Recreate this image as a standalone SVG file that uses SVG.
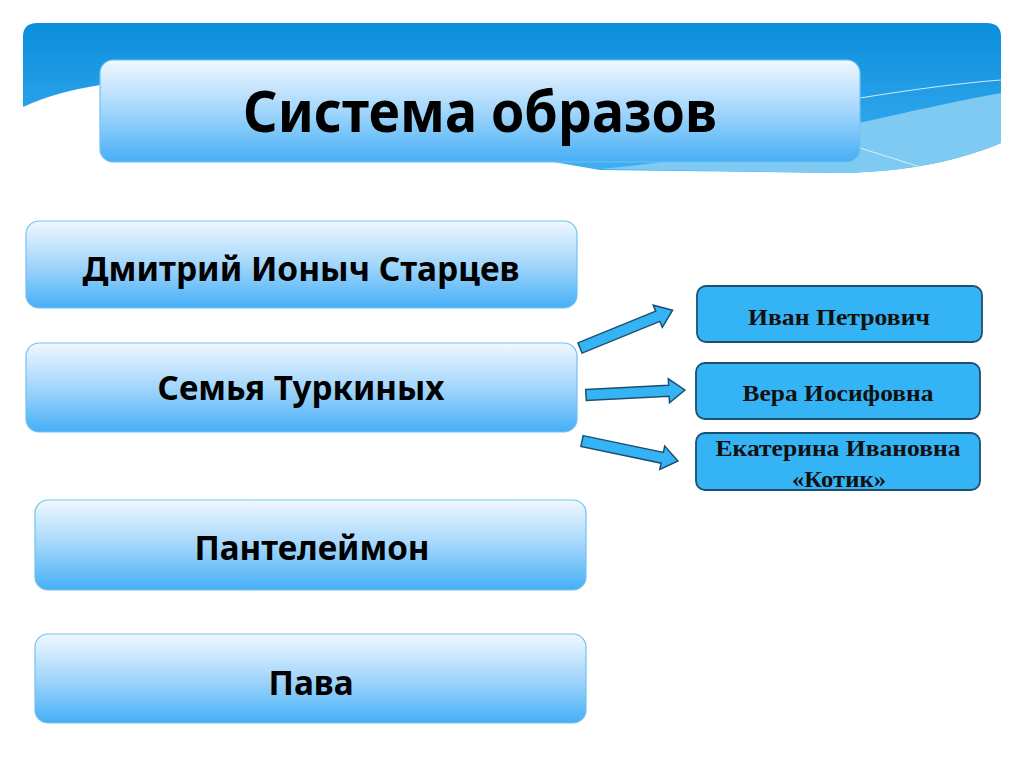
<svg xmlns="http://www.w3.org/2000/svg" width="1024" height="767" viewBox="0 0 1024 767">
<defs>
<linearGradient id="band" x1="0" y1="0" x2="0" y2="1">
<stop offset="0" stop-color="#0b8edc"/>
<stop offset="1" stop-color="#3fb0f2"/>
</linearGradient>
<linearGradient id="box" x1="0" y1="0" x2="0" y2="1">
<stop offset="0" stop-color="#f0f8ff"/>
<stop offset="0.5" stop-color="#a3d6fb"/>
<stop offset="1" stop-color="#45aff6"/>
</linearGradient>
<style>
.lbox{fill:url(#box);stroke:#72c2f0;stroke-width:1.2}
.rbox{fill:#35b4f5;stroke:#1d4f70;stroke-width:1.8}
.ltxt{font-family:"Noto Sans","Open Sans",sans-serif;font-weight:700;font-size:34px;fill:#000;text-anchor:middle}
.rtxt{font-family:"Liberation Serif",serif;font-weight:700;font-size:23px;fill:#111;text-anchor:middle}
.arr{fill:#35b4f5;stroke:#1d4f70;stroke-width:1.5;stroke-linejoin:miter}
</style>
</defs>
<rect width="1024" height="767" fill="#ffffff"/>
<g id="header">
<path d="M23,37 Q23,23 37,23 L987,23 Q1001,23 1001,37 L1001,143 C960,160 910,172 840,173 L600,170 L100,85 Q55,92 23,107 Z" fill="url(#band)"/>
<path d="M600,169 C720,160 880,115 1001,93 L1001,143 C960,160 910,172 840,173 Z" fill="#7fcaf3"/>
<path d="M860,98 C910,90 960,83 1001,80" fill="none" stroke="#cfeafc" stroke-width="1"/>
<path d="M860,148 C885,156 905,162 920,167" fill="none" stroke="#d8effd" stroke-width="1"/>
</g>
<g id="title">
<rect x="100" y="60" width="760" height="102" rx="13" class="lbox"/>
<text x="480" y="132" font-family="Noto Sans, Open Sans, sans-serif" font-weight="700" font-size="58" text-anchor="middle" textLength="474" lengthAdjust="spacingAndGlyphs" fill="#000">Система образов</text>
</g>
<g id="node-startsev">
<rect x="26" y="221" width="551" height="87" rx="13" class="lbox"/>
<text x="301" y="281" class="ltxt" textLength="437" lengthAdjust="spacingAndGlyphs">Дмитрий Ионыч Старцев</text>
</g>
<g id="node-turkiny">
<rect x="26" y="343" width="551" height="89" rx="13" class="lbox"/>
<text x="301" y="400" class="ltxt" textLength="287" lengthAdjust="spacingAndGlyphs">Семья Туркиных</text>
</g>
<g id="node-panteleymon">
<rect x="35" y="500" width="551" height="90" rx="13" class="lbox"/>
<text x="312" y="560" class="ltxt" textLength="235" lengthAdjust="spacingAndGlyphs">Пантелеймон</text>
</g>
<g id="node-pava">
<rect x="35" y="634" width="551" height="89" rx="13" class="lbox"/>
<text x="311" y="695" class="ltxt" textLength="85" lengthAdjust="spacingAndGlyphs">Пава</text>
</g>
<g id="node-ivan">
<rect x="697" y="286" width="285" height="56" rx="9" class="rbox"/>
<text x="839" y="325" class="rtxt" textLength="182" lengthAdjust="spacingAndGlyphs">Иван Петрович</text>
</g>
<g id="node-vera">
<rect x="696" y="363" width="284" height="56" rx="9" class="rbox"/>
<text x="838" y="401" class="rtxt" textLength="191" lengthAdjust="spacingAndGlyphs">Вера Иосифовна</text>
</g>
<g id="node-ekaterina">
<rect x="696" y="433" width="284" height="57" rx="9" class="rbox"/>
<text x="838" y="456" class="rtxt" textLength="245" lengthAdjust="spacingAndGlyphs">Екатерина Ивановна</text>
<text x="839" y="487" class="rtxt" textLength="94" lengthAdjust="spacingAndGlyphs">«Котик»</text>
</g>
<g id="connectors">
<polygon class="arr" transform="translate(580,348) rotate(-22.2)" points="0,-5.5 84,-5.5 84,-12 100,0 84,12 84,5.5 0,5.5"/>
<polygon class="arr" transform="translate(586,395) rotate(-2.9)" points="0,-5.5 83,-5.5 83,-12 99,0 83,12 83,5.5 0,5.5"/>
<polygon class="arr" transform="translate(582,441) rotate(11.8)" points="0,-5.5 82,-5.5 82,-12 98,0 82,12 82,5.5 0,5.5"/>
</g>
</svg>
